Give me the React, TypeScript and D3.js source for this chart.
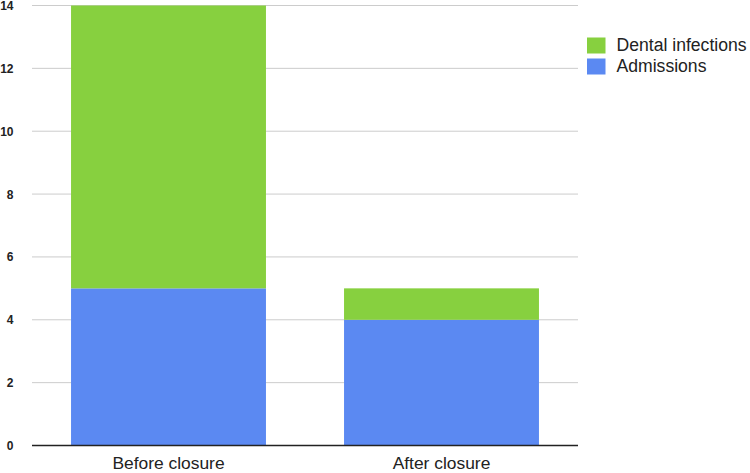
import React from "react";
import * as d3 from "d3";

const categories = ["Before closure", "After closure"];
const admissions = [5, 4];
const dentalInfections = [9, 1];
const yTicks = [0, 2, 4, 6, 8, 10, 12, 14];
const seriesNames = ["Admissions", "Dental infections"];
const colors = ["#5b89f2", "#87d03f"];

export default function App() {
  const W = 750, H = 473;
  const left = 32, right = 578, top = 5.5, bottom = 445.5;
  const x = d3.scaleBand().domain(categories).range([left, right]).paddingInner(0.286).paddingOuter(0.143);
  const y = d3.scaleLinear().domain([0, 14]).range([bottom, top]);
  const table = categories.map((c, i) => ({ cat: c, Admissions: admissions[i], "Dental infections": dentalInfections[i] }));
  const stacked = d3.stack<any>().keys(seriesNames)(table);
  const font = "Liberation Sans, Arial, sans-serif";
  return (
    <svg width={W} height={H} style={{ position: "absolute", left: 0, top: 0, background: "#fff" }}>
      {yTicks.map((t) => (
        <g key={t}>
          {t !== 0 && <line x1={left} x2={right} y1={y(t)} y2={y(t)} stroke="#cccccc" strokeWidth={1} />}
          <text x={13.5} y={y(t) + 4.5} textAnchor="end" fontFamily={font} fontSize={12} fontWeight="bold" fill="#222">{t}</text>
        </g>
      ))}
      {stacked.map((s, si) => (
        <g key={s.key} fill={colors[si]}>
          {s.map((d, i) => (
            <rect key={i} x={x(categories[i])} width={x.bandwidth()} y={y(d[1])} height={y(d[0]) - y(d[1])} />
          ))}
        </g>
      ))}
      <line x1={left} x2={right} y1={bottom} y2={bottom} stroke="#222" strokeWidth={1.5} />
      {categories.map((c) => (
        <text key={c} x={(x(c) as number) + x.bandwidth() / 2} y={468.5} textAnchor="middle" fontFamily={font} fontSize={17.4} fill="#222">{c}</text>
      ))}
      {[1, 0].map((si, k) => (
        <g key={si}>
          <rect x={587} y={37.5 + k * 21} width={18.5} height={16} fill={colors[si]} />
          <text x={616.5} y={50.5 + k * 21.8} fontFamily={font} fontSize={17.6} fill="#222">{seriesNames[si]}</text>
        </g>
      ))}
    </svg>
  );
}
